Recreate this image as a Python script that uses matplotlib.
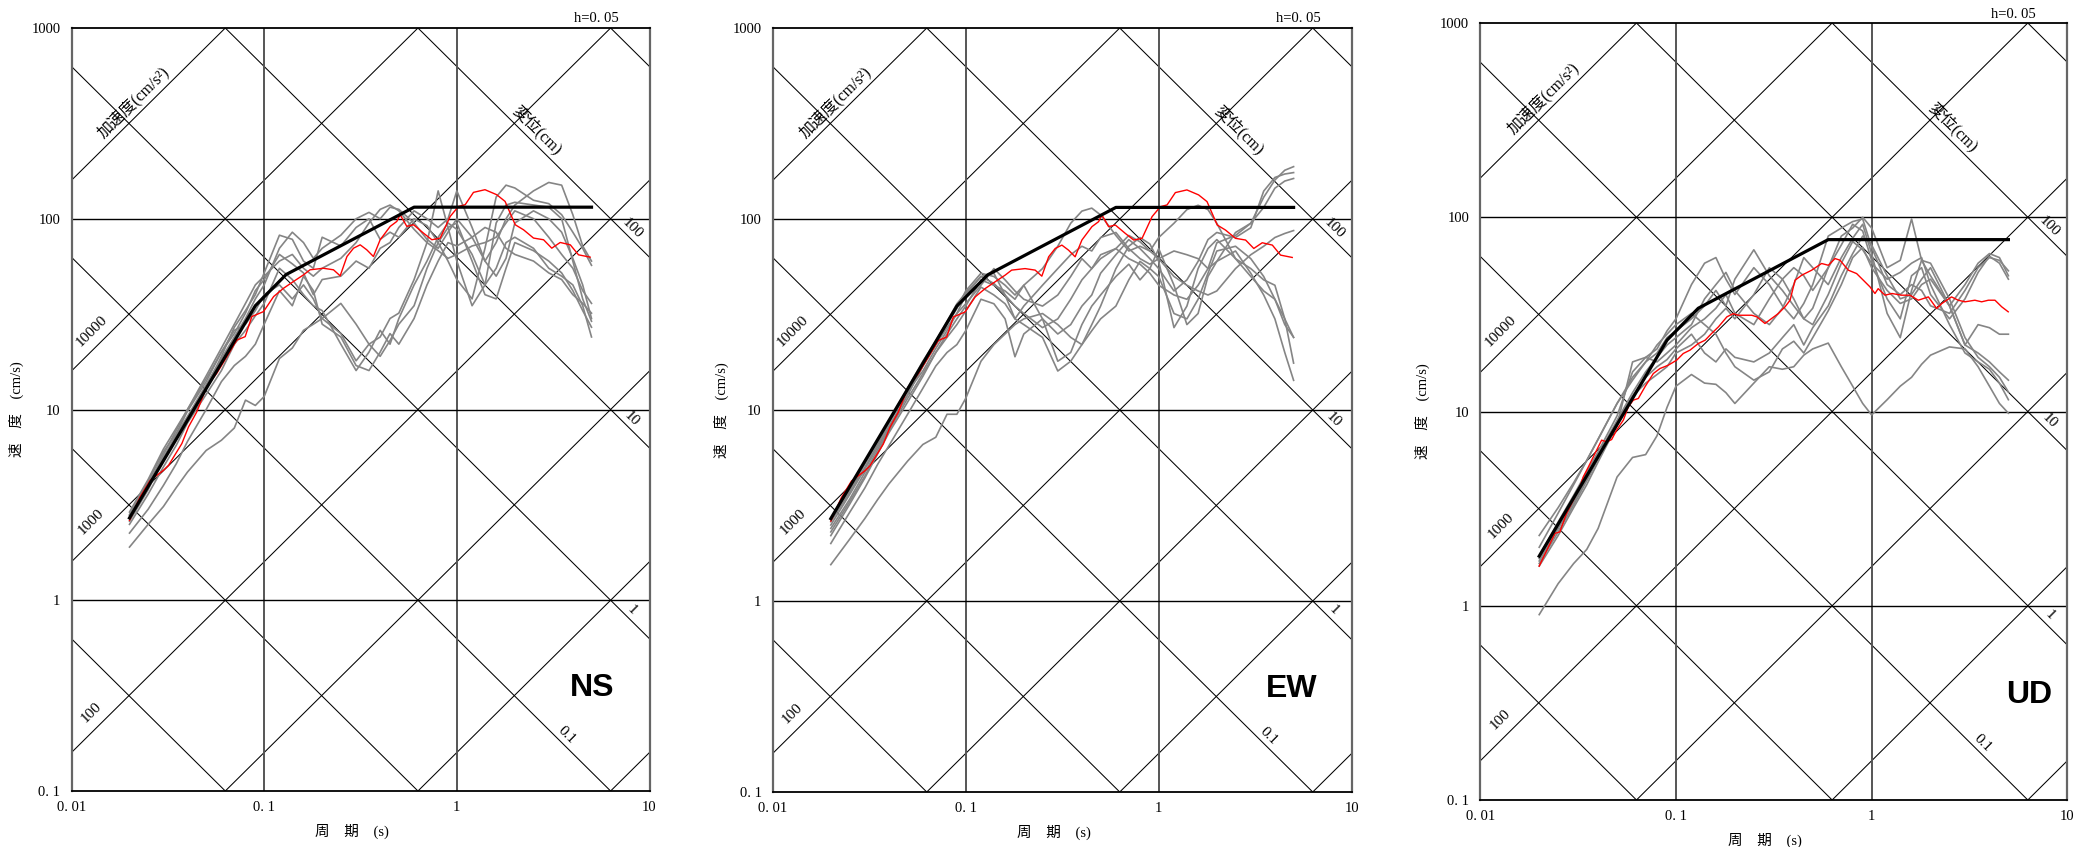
import numpy as np
import matplotlib
matplotlib.use("Agg")
import matplotlib.pyplot as plt
from matplotlib.ticker import NullLocator

plt.rcParams['font.family'] = ['Liberation Serif', 'Noto Sans CJK JP', 'DejaVu Sans']

# ---------------- data ----------------
periods = [0.02, 0.025, 0.03, 0.035, 0.04, 0.05, 0.06, 0.07, 0.08, 0.09, 0.1,
           0.12, 0.14, 0.16, 0.18, 0.2, 0.25, 0.3, 0.35, 0.4, 0.45, 0.5, 0.6,
           0.7, 0.8, 0.9, 1.0, 1.2, 1.4, 1.6, 1.8, 2.0, 2.5, 3.0, 3.5, 4.0, 4.5, 5.0]

# design spectra (black)
design_T = [0.02, 0.09, 0.13, 0.6, 5.0]
design_h_V = [2.7, 35, 51, 115, 115]
design_v_V = [1.8, 23.3, 34, 76.7, 76.7]

# red spectrum (horizontal, same in NS and EW)
red_h_T = [0.020, 0.0227, 0.0256, 0.0300, 0.0319, 0.0374, 0.0405, 0.0447, 0.0504, 0.0568,
           0.0640, 0.0721, 0.0797, 0.0863, 0.0992, 0.112, 0.126, 0.142, 0.160, 0.173,
           0.203, 0.229, 0.248, 0.269, 0.291, 0.315, 0.341, 0.369, 0.400, 0.451,
           0.488, 0.508, 0.550, 0.596, 0.671, 0.742, 0.820, 0.924, 1.02, 1.105,
           1.22, 1.40, 1.61, 1.78, 2.01, 2.22, 2.50, 2.82, 3.11, 3.44, 3.88, 4.28, 4.92]
red_h_V = [2.62, 3.48, 4.25, 4.80, 5.10, 6.63, 8.11, 9.72, 13.2, 15.5,
           18.9, 23.1, 24.1, 30.7, 32.6, 39.1, 43.2, 46.9, 50.8, 54.0,
           55.0, 54.0, 50.2, 63.4, 70.1, 73.0, 68.7, 63.4, 77.6, 91.2,
           96.8, 105, 91.2, 93.0, 84.1, 77.6, 79.2, 102.9, 116, 118.5,
           137.5, 142, 133.7, 123.3, 93.0, 87.5, 79.2, 77.6, 70.1, 75.1, 73.0, 64.7, 62.9]

# red spectrum (vertical)
red_v_T = [0.0200, 0.0223, 0.0241, 0.0255, 0.0276, 0.0299, 0.0323, 0.0336, 0.0357, 0.0378,
           0.0401, 0.0417, 0.0442, 0.0469, 0.0497, 0.0538, 0.0571, 0.0605, 0.0642, 0.0694,
           0.0766, 0.0828, 0.0913, 0.1008, 0.109, 0.118, 0.130, 0.141, 0.152, 0.165,
           0.182, 0.196, 0.208, 0.244, 0.259, 0.285, 0.308, 0.333, 0.361, 0.383,
           0.406, 0.439, 0.494, 0.555, 0.601, 0.650, 0.689, 0.760, 0.838, 0.907,
           0.981, 1.04, 1.08, 1.17, 1.27, 1.42, 1.57, 1.73, 1.95, 2.15,
           2.28, 2.56, 2.77, 3.00, 3.37, 3.65, 3.95, 4.27, 4.62, 4.99]
red_v_V = [1.60, 2.01, 2.36, 2.40, 2.99, 3.50, 4.10, 4.61, 5.19, 5.84,
           6.58, 7.12, 6.98, 7.17, 8.01, 9.02, 10.57, 11.44, 11.67, 13.39,
           15.68, 16.64, 17.31, 18.37, 19.89, 20.7, 22.38, 23.29, 25.2, 27.3,
           30.7, 31.9, 31.3, 31.3, 30.7, 28.4, 30.1, 31.9, 34.6, 37.4,
           47.4, 50.3, 53.4, 57.8, 56.6, 61.3, 60.1, 53.4, 51.3, 47.4,
           43.8, 40.5, 42.9, 39.7, 40.5, 39.7, 39.7, 37.4, 38.9, 33.9,
           35.9, 38.9, 37.4, 36.7, 37.4, 36.7, 37.4, 37.4, 34.6, 32.6]

# gray spectra, NS
ns_g1 = [2.8, 4.1, 5.6, 7.4, 9.2, 13.5, 18.5, 24, 30, 38, 45, 70, 85, 75, 62, 70, 82, 100, 108, 100, 115, 112, 95, 78, 70, 85, 100, 80, 60, 75, 100, 118, 140, 155, 150, 105, 72, 60]
ns_g2 = [2.6, 3.8, 5.5, 7.2, 9.0, 13, 19, 27, 33, 40, 52, 82, 78, 60, 55, 80, 72, 90, 100, 78, 85, 80, 100, 92, 75, 60, 48, 38, 70, 130, 150, 145, 125, 120, 105, 85, 70, 57]
ns_g3 = [2.9, 4.3, 6.2, 8.0, 10, 14.5, 20, 26, 28, 33, 40, 45, 38, 45, 38, 30, 25, 18, 22, 24, 30, 32, 48, 75, 140, 90, 60, 35, 45, 95, 118, 122, 118, 115, 100, 60, 38, 29]
ns_g4 = [2.5, 3.6, 5.0, 6.5, 8.5, 12, 16, 22, 26, 31, 36, 55, 48, 40, 35, 33, 22, 16, 20, 26, 22, 30, 45, 60, 80, 95, 88, 65, 45, 55, 75, 80, 70, 55, 50, 45, 35, 24]
ns_g5 = [1.9, 2.5, 3.1, 3.9, 4.7, 6.1, 6.9, 8.0, 11.2, 10.5, 11.7, 18.5, 21, 26, 28, 30, 36, 28, 22, 19, 23, 28, 35, 55, 75, 90, 95, 60, 40, 38, 55, 75, 68, 60, 52, 42, 33, 27]
ns_g6 = [2.25, 3.0, 4.0, 5.2, 6.8, 10, 14, 17, 19, 22, 28, 42, 35, 50, 42, 28, 24, 17, 16, 20, 25, 22, 30, 45, 60, 75, 72, 80, 90, 85, 70, 65, 60, 52, 48, 40, 36, 32]
ns_g7 = [2.7, 4.0, 5.8, 7.8, 10, 15, 21, 28, 36, 45, 50, 60, 65, 55, 50, 55, 62, 75, 95, 112, 118, 110, 88, 75, 68, 62, 65, 72, 75, 80, 95, 110, 100, 80, 65, 55, 42, 36]
ns_g8 = [2.8, 4.2, 6.0, 7.5, 9.8, 14, 20, 25, 32, 42, 48, 65, 58, 52, 40, 48, 50, 60, 55, 70, 75, 90, 110, 100, 90, 100, 140, 90, 60, 50, 62, 95, 110, 100, 85, 62, 45, 30]

# gray spectra, EW
ew_g1 = [2.4, 3.4, 4.7, 6.2, 8.0, 12, 17, 22, 27, 32, 36, 45, 55, 48, 42, 38, 35, 40, 50, 62, 55, 65, 70, 62, 58, 52, 45, 40, 38, 45, 55, 75, 82, 95, 130, 160, 180, 188]
ew_g2 = [2.2, 3.2, 4.4, 5.9, 7.6, 11, 15, 20, 25, 30, 35, 48, 45, 42, 38, 45, 30, 25, 28, 35, 40, 52, 65, 78, 70, 62, 55, 42, 48, 60, 78, 85, 80, 90, 140, 165, 172, 175]
ew_g3 = [2.6, 3.7, 5.0, 6.6, 8.5, 12.5, 16, 21, 26, 32, 40, 50, 52, 40, 30, 35, 45, 55, 65, 72, 68, 80, 85, 70, 62, 58, 62, 68, 65, 62, 55, 60, 85, 95, 115, 145, 158, 163]
ew_g4 = [2.5, 3.6, 4.9, 6.4, 8.2, 12, 17, 22, 28, 34, 42, 52, 50, 45, 40, 45, 55, 72, 95, 110, 114, 105, 82, 68, 72, 68, 62, 50, 45, 42, 40, 42, 55, 65, 72, 80, 84, 87]
ew_g5 = [1.55, 2.1, 2.7, 3.4, 4.1, 5.4, 6.6, 7.2, 9.5, 9.5, 11.5, 18, 22, 25, 28, 30, 32, 28, 24, 22, 26, 30, 35, 48, 60, 55, 50, 32, 30, 38, 52, 68, 72, 62, 50, 38, 28, 24]
ew_g6 = [2.0, 2.9, 3.9, 5.2, 6.5, 9.5, 13, 17, 20, 22, 26, 38, 36, 30, 19, 25, 30, 18, 20, 28, 35, 40, 50, 58, 48, 55, 70, 45, 28, 32, 50, 60, 68, 52, 40, 30, 20, 14.3]
ew_g7 = [2.3, 3.3, 4.5, 6.0, 7.8, 11.5, 15.5, 20, 24, 28, 33, 44, 40, 36, 30, 28, 24, 16, 18, 22, 28, 35, 55, 72, 80, 74, 60, 27, 35, 55, 70, 78, 62, 55, 48, 45, 30, 17.6]
ew_g8 = [2.7, 3.8, 5.2, 6.8, 8.8, 13, 18, 23, 29, 36, 41, 50, 46, 40, 35, 32, 27, 30, 38, 48, 55, 62, 70, 82, 76, 68, 80, 95, 112, 118, 112, 95, 62, 50, 42, 38, 30, 24]

# gray spectra, UD
ud_g1 = [0.9, 1.3, 1.65, 1.95, 2.5, 4.6, 5.8, 6.0, 7.5, 10.5, 13.5, 15.5, 14, 13.8, 12.5, 11, 14, 17, 16.5, 17, 19.5, 21, 22.5, 17, 13.5, 11, 9.6, 11.5, 13.5, 15, 17.5, 19.5, 21.5, 21, 17, 13.5, 11, 9.8]
ud_g2 = [1.8, 2.7, 3.7, 4.9, 6.2, 9.5, 16, 19, 21, 26, 30, 45, 58, 62, 48, 40, 55, 45, 35, 30, 36, 45, 80, 88, 95, 98, 70, 45, 40, 45, 42, 35, 32, 42, 55, 62, 60, 53]
ud_g3 = [2.3, 3.2, 4.3, 5.6, 7.2, 11, 15, 18, 20, 24, 26, 30, 35, 42, 35, 48, 68, 50, 42, 35, 30, 34, 55, 72, 92, 85, 60, 38, 30, 50, 55, 40, 30, 38, 52, 63, 58, 48]
ud_g4 = [1.7, 2.5, 3.4, 4.5, 5.8, 8.5, 18, 19, 18, 20, 22, 27, 30, 34, 40, 32, 28, 38, 48, 55, 50, 42, 55, 80, 88, 100, 88, 55, 60, 98, 60, 50, 35, 45, 58, 65, 62, 50]
ud_g5 = [1.6, 2.3, 3.2, 4.2, 5.5, 8.5, 12, 15, 17, 18.5, 21, 25, 20, 18, 21, 19, 18, 20, 24, 28, 22, 27, 35, 50, 65, 80, 72, 50, 38, 40, 48, 55, 35, 22, 20, 18, 16, 14.5]
ud_g6 = [2.0, 3.0, 4.2, 5.6, 7.2, 11, 14.5, 18, 22, 25, 28, 32, 28, 25, 20, 17, 14.5, 16, 21, 23, 20, 24, 33, 45, 62, 70, 55, 42, 36, 38, 45, 48, 35, 22, 28, 27, 25, 25]
ud_g7 = [1.75, 2.6, 3.5, 4.6, 6.0, 9.0, 12.5, 16, 19, 22, 24, 28, 38, 45, 52, 42, 32, 28, 34, 45, 62, 55, 45, 62, 78, 92, 65, 32, 24, 42, 60, 58, 38, 24, 19, 17, 15, 12.6]
ud_g8 = [1.65, 2.4, 3.3, 4.4, 5.7, 8.8, 12, 14, 15.5, 17, 20, 22, 25, 30, 34, 30, 40, 55, 48, 38, 30, 28, 40, 58, 75, 68, 58, 48, 52, 58, 62, 45, 28, 20, 18, 16.5, 14, 11.5]

x_ticks = [0.01, 0.1, 1, 10]
x_tick_labels = ['0. 01', '0. 1', '1', '10']
y_ticks = [0.1, 1, 10, 100, 1000]
y_tick_labels = ['0. 1', '1', '10', '100', '1000']
accel_labels = [100, 1000, 10000]
disp_labels = [100, 10, 1, 0.1]

# ---------------- figure ----------------
W, H = 2076, 847
fig = plt.figure(figsize=(W / 100, H / 100), dpi=100)
TWO_PI = 2 * np.pi

panels = [
    dict(box=(71.5, 28, 649.5, 791), name='NS', name_x=0.900, ylab_off=55,
         grays=[ns_g1, ns_g2, ns_g3, ns_g4, ns_g5, ns_g6, ns_g7, ns_g8],
         red=(red_h_T, red_h_V), design=design_h_V),
    dict(box=(772.7, 28, 1351.7, 792), name='EW', name_x=0.897, ylab_off=51,
         grays=[ew_g1, ew_g2, ew_g3, ew_g4, ew_g5, ew_g6, ew_g7, ew_g8],
         red=(red_h_T, red_h_V), design=design_h_V),
    dict(box=(1480.3, 23, 2067.3, 800), name='UD', name_x=0.935, ylab_off=58,
         grays=[ud_g1, ud_g2, ud_g3, ud_g4, ud_g5, ud_g6, ud_g7, ud_g8],
         red=(red_v_T, red_v_V), design=design_v_V),
]

for p in panels:
    x0, y0, x1, y1 = p['box']
    wpx, hpx = x1 - x0, y1 - y0
    ax = fig.add_axes([x0 / W, 1 - y1 / H, wpx / W, hpx / H])
    ax.set_xscale('log')
    ax.set_yscale('log')
    ax.set_xlim(0.01, 10)
    ax.set_ylim(0.1, 1000)
    ang = np.degrees(np.arctan((hpx / 4) / (wpx / 3)))

    # tripartite grid
    Tl = np.array([1e-3, 1e2])
    for k in range(-2, 8):
        A = 10.0 ** k
        ax.plot(Tl, A * Tl / TWO_PI, color='black', lw=0.75, zorder=1)
    for k in range(-5, 5):
        D = 10.0 ** k
        ax.plot(Tl, TWO_PI * D / Tl, color='black', lw=0.75, zorder=1)
    for xv in (0.1, 1):
        ax.axvline(xv, color='#555555', lw=1.4, zorder=1)
    for yv in (1, 10, 100):
        ax.axhline(yv, color='black', lw=1.0, zorder=1)

    # spectra
    for g in p['grays']:
        ax.plot(periods, g, color='#858585', lw=1.2, zorder=2)
    ax.plot(p['red'][0], p['red'][1], color='red', lw=1.0, zorder=3)
    ax.plot(design_T, p['design'], color='black', lw=2.3, zorder=4)

    # diagonal labels
    for A in accel_labels:
        t = 0.0127
        ax.text(t, A * t / TWO_PI * 1.28, str(A), rotation=ang, rotation_mode='anchor',
                ha='center', va='center', fontsize=11)
    t = 0.021
    ax.text(t, 1e5 * t / TWO_PI * 1.22, '加速度(cm/s²)', rotation=ang, rotation_mode='anchor',
            ha='center', va='center', fontsize=11.5)
    t = 2.6
    ax.text(t, TWO_PI * 100 / t * 1.2, '変位(cm)', rotation=-ang, rotation_mode='anchor',
            ha='center', va='center', fontsize=11.5)
    for D in disp_labels:
        t = 8.1 if D >= 1 else 3.7
        ax.text(t, TWO_PI * D / t * 1.15, str(D), rotation=-ang, rotation_mode='anchor',
                ha='center', va='center', fontsize=11)

    # axes styling
    ax.xaxis.set_minor_locator(NullLocator())
    ax.yaxis.set_minor_locator(NullLocator())
    ax.set_xticks(x_ticks)
    ax.set_xticklabels(x_tick_labels)
    ax.set_yticks(y_ticks)
    ax.set_yticklabels(y_tick_labels)
    ax.tick_params(axis='x', length=0, pad=7, labelsize=10.5)
    ax.tick_params(axis='y', length=0, pad=8, labelsize=10.5)
    for side in ('top', 'bottom'):
        ax.spines[side].set_linewidth(1.3)
        ax.spines[side].set_color('black')
    for side in ('left', 'right'):
        ax.spines[side].set_linewidth(1.6)
        ax.spines[side].set_color('#666666')

    ax.text(-p['ylab_off'] / wpx, 0.5, '速\u3000度\u3000(cm/s)', transform=ax.transAxes, rotation=90,
            ha='center', va='center', fontsize=10.5)
    ax.text(0.485, -40.5 / hpx, '周\u3000期\u3000(s)', transform=ax.transAxes,
            ha='center', va='center', fontsize=10.5)
    ax.text(0.946, 1 + 9 / hpx, 'h=0. 05', transform=ax.transAxes,
            ha='right', va='center', fontsize=10.5)
    ax.text(p['name_x'], 0.135, p['name'], transform=ax.transAxes,
            ha='center', va='center', fontsize=23, fontweight='bold',
            family=['Liberation Sans Narrow', 'Liberation Sans', 'DejaVu Sans'])

fig.savefig('out.png', dpi=100, facecolor='white')
